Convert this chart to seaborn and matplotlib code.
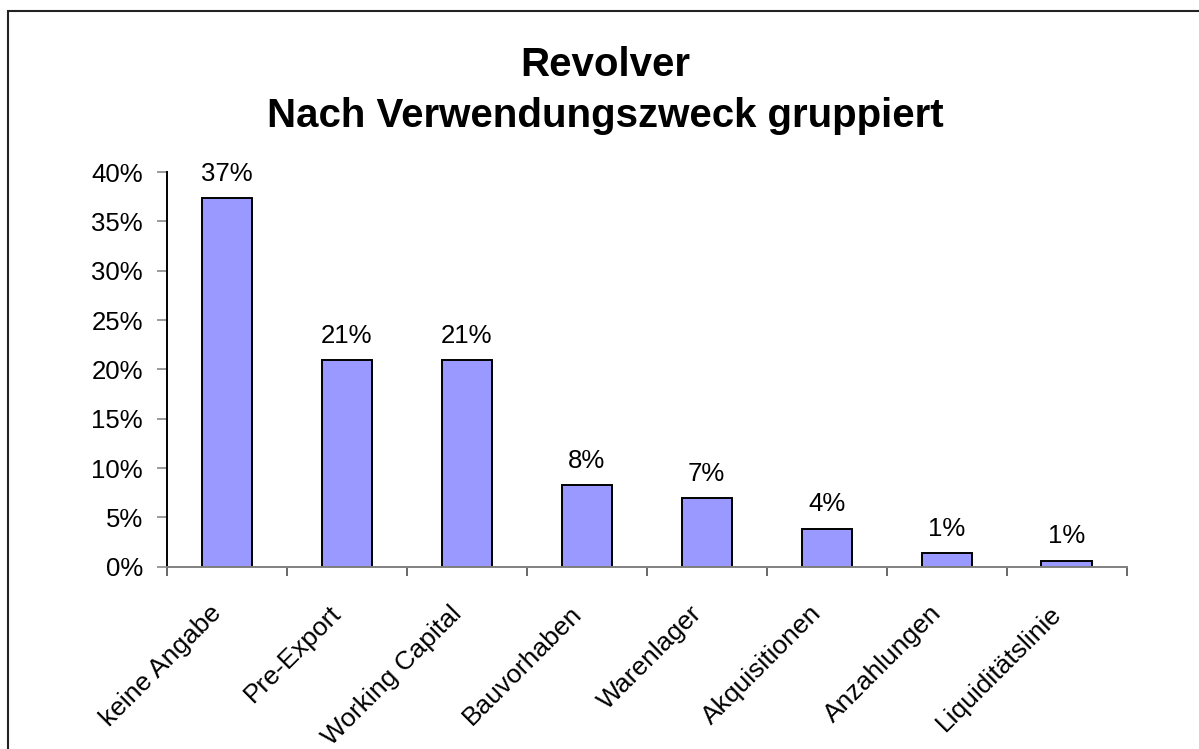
import matplotlib
matplotlib.use("Agg")
import matplotlib.pyplot as plt
import matplotlib.transforms as mtransforms
import seaborn as sns
from matplotlib.patches import Rectangle
from matplotlib.ticker import FuncFormatter, FixedLocator, NullFormatter

# Data
categories = ["keine Angabe", "Pre-Export", "Working Capital", "Bauvorhaben",
              "Warenlager", "Akquisitionen", "Anzahlungen", "Liquiditätslinie"]
shares = [0.3735, 0.209, 0.209, 0.0824, 0.0692, 0.0385, 0.0137, 0.0058]
y_ticks = [0.0, 0.05, 0.10, 0.15, 0.20, 0.25, 0.30, 0.35, 0.40]
title_lines = ["Revolver", "Nach Verwendungszweck gruppiert"]

sns.set_theme(style="white")
plt.rcParams["font.family"] = ["Liberation Sans", "DejaVu Sans"]

W, H = 1199, 749
fig = plt.figure(figsize=(W / 100, H / 100), dpi=100)
fig.patch.set_facecolor("white")

# axes box in pixel terms of the reference
left, right, bottom, top = 166.7, 1126.5, 566.7, 172.0
ax = fig.add_axes([left / W, 1 - bottom / H, (right - left) / W, (bottom - top) / H])

sns.barplot(x=categories, y=shares, color="#9999FF", saturation=1,
            edgecolor="black", linewidth=1.4, width=0.417, ax=ax)

fs = 18.5
ax.set_xlim(-0.5, len(categories) - 0.5)
ax.set_ylim(0, 0.40)
ax.set_yticks(y_ticks)
ax.yaxis.set_major_formatter(FuncFormatter(lambda v, p: f"{v:.0%}"))
ax.tick_params(axis="y", direction="out", length=7.2, width=1.1, color="#808080",
               pad=10, labelsize=fs, labelcolor="black", left=True)

# category boundaries as ticks (Excel style), names drawn at bar centres
ax.xaxis.set_major_locator(FixedLocator([i - 0.5 for i in range(len(categories) + 1)]))
ax.xaxis.set_major_formatter(NullFormatter())
ax.tick_params(axis="x", which="major", direction="out", length=6.5, width=1.1,
               color="#404040", bottom=True)
shift = mtransforms.ScaledTranslation(-0.04, -0.48, fig.dpi_scale_trans)
for i, name in enumerate(categories):
    ax.text(i, 0, name, transform=ax.get_xaxis_transform() + shift,
            rotation=45, ha="right", va="baseline", rotation_mode="anchor",
            fontsize=19, color="black")

for side in ["top", "right"]:
    ax.spines[side].set_visible(False)
ax.spines["left"].set_color("black")
ax.spines["left"].set_linewidth(1.4)
ax.spines["bottom"].set_color("#808080")
ax.spines["bottom"].set_linewidth(1.4)
ax.grid(False)
ax.set_xlabel("")
ax.set_ylabel("")

# value labels above the bars
for i, v in enumerate(shares):
    ax.annotate(f"{v:.0%}", xy=(i, v), xytext=(0, 12.7), textcoords="offset points",
                ha="center", va="baseline", fontsize=fs, color="black")

# title (two lines, bold)
fig.text(605 / W, 1 - 75.7 / H, title_lines[0], ha="center", va="baseline",
         fontsize=29, fontweight="bold", color="black")
fig.text(605 / W, 1 - 126.7 / H, title_lines[1], ha="center", va="baseline",
         fontsize=29, fontweight="bold", color="black")

# chart-area frame (only left and top edges are inside the picture)
fig.patches.append(Rectangle((8 / W, -0.1), 1.2, 1 - 10.7 / H + 0.1,
                             transform=fig.transFigure, fill=False,
                             edgecolor="#222222", linewidth=1.5, clip_on=False))

fig.savefig("out.png", dpi=100, facecolor="white")
